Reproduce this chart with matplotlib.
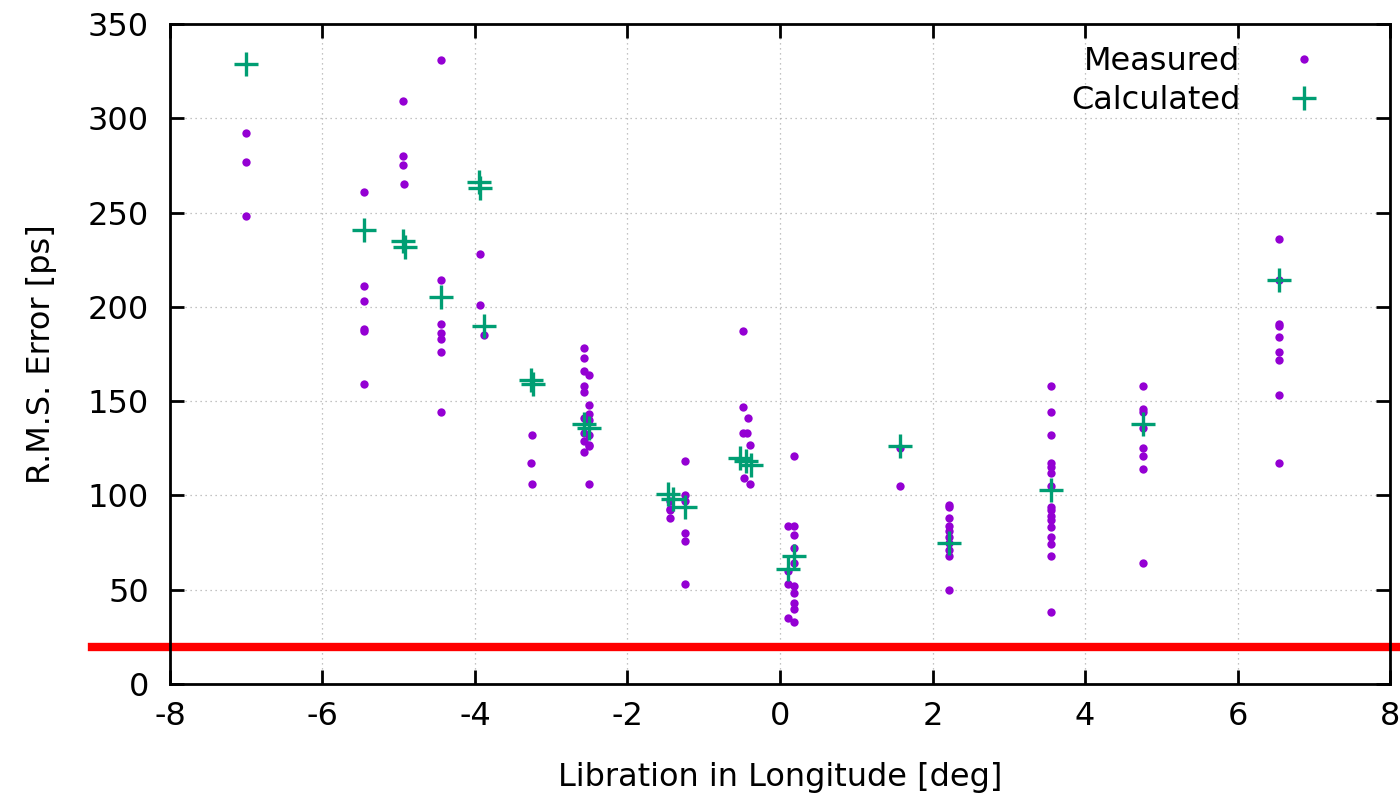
import numpy as np
from matplotlib import pyplot as plt
from matplotlib import transforms

# measured r.m.s. error per libration value
meas_x = [
    -7.0, -7.0, -7.0,
    -5.46, -5.46, -5.46, -5.46, -5.46, -5.46,
    -4.94, -4.94, -4.94, -4.93,
    -4.44, -4.44, -4.44, -4.44, -4.44, -4.44, -4.44,
    -3.94, -3.94, -3.88,
    -3.25, -3.27, -3.25,
    -2.57, -2.57, -2.57, -2.50, -2.57, -2.57, -2.50, -2.50, -2.57, -2.50,
    -2.57, -2.50, -2.57, -2.50, -2.50, -2.57, -2.50,
    -1.44, -1.44, -1.44, -1.44,
    -1.25, -1.25, -1.25, -1.25, -1.25, -1.25,
    -0.49, -0.48, -0.42, -0.49, -0.43, -0.40, -0.47, -0.40,
    0.18, 0.11, 0.18, 0.18, 0.18, 0.18, 0.11, 0.11, 0.18, 0.18, 0.18, 0.18,
    0.11, 0.18,
    1.57, 1.57,
    2.21, 2.21, 2.21, 2.21, 2.21, 2.21, 2.21, 2.21, 2.21, 2.21,
    3.55, 3.55, 3.55, 3.55, 3.55, 3.55, 3.55, 3.55, 3.55, 3.55, 3.55, 3.55,
    3.55, 3.55, 3.55, 3.55,
    4.76, 4.76, 4.76, 4.76, 4.76, 4.76, 4.76, 4.76,
    6.54, 6.54, 6.54, 6.54, 6.54, 6.54, 6.54, 6.54, 6.54,
]
meas_y = [
    292, 277, 248,
    261, 211, 203, 188, 187, 159,
    309, 280, 275, 265,
    331, 214, 191, 186, 183, 176, 144,
    228, 201, 185,
    132, 117, 106,
    178, 173, 166, 164, 158, 155, 148, 143, 141, 140,
    133, 132, 129, 127, 126, 123, 106,
    97, 93, 88, 92,
    118, 100, 97, 80, 76, 53,
    187, 147, 141, 133, 133, 127, 109, 106,
    121, 84, 84, 79, 72, 64, 60, 53, 52, 48, 43, 40,
    35, 33,
    125, 105,
    95, 94, 88, 84, 81, 78, 75, 71, 68, 50,
    158, 144, 132, 117, 115, 112, 105, 94, 92, 89, 87, 83,
    78, 74, 68, 38,
    158, 146, 144, 136, 125, 121, 114, 64,
    236, 214, 191, 190, 184, 176, 172, 153, 117,
]

# calculated r.m.s. error
calc_x = [-7.0, -5.46, -4.95, -4.92, -3.95, -3.93, -3.88, -4.44,
          -3.27, -3.24, -2.57, -2.51, -1.47, -1.40, -1.25,
          -0.52, -0.45, -0.38, 0.18, 0.11, 1.57, 2.21, 3.55, 4.76, 6.54]
calc_y = [329, 241, 235, 232, 266, 263, 190, 205,
          161, 159, 138, 136, 101, 98, 94,
          120, 118, 116, 68, 61, 126, 75, 103, 138, 214]

ref_level = 19.6

x_ticks = np.arange(-8, 9, 2)
y_ticks = np.arange(0, 351, 50)

plt.rcParams['font.family'] = ['DejaVu Sans']
plt.rcParams['axes.unicode_minus'] = False
fig = plt.figure(figsize=(14, 7.93), dpi=100)
ax = fig.add_axes([0.1214, 0.1375, 0.8715, 0.8322])

ax.plot(meas_x, meas_y, 'o', color='#9400D3', markersize=6, markeredgewidth=0,
        label='Measured', zorder=3)
ax.plot(calc_x, calc_y, '+', color='#009E73', markersize=17, markeredgewidth=2.4,
        label='Calculated', zorder=4)

# reference level, extends past the left spine
trans = transforms.blended_transform_factory(ax.transAxes, ax.transData)
ax.plot([-0.064, 1.02], [ref_level, ref_level], color='#FF0000', linewidth=6,
        transform=trans, clip_on=False, zorder=2)

ax.set_xlim(-8, 8)
ax.set_ylim(0, 350)
ax.set_xticks(x_ticks)
ax.set_yticks(y_ticks)
ax.tick_params(direction='in', length=10, width=2, labelsize=23,
               top=True, right=True, pad=12)
ax.tick_params(axis='y', pad=15)
ax.grid(True, linestyle=(0, (1, 3)), color='#b0b0b0', linewidth=0.9)
for s in ax.spines.values():
    s.set_linewidth(2)

ax.set_xlabel('Libration in Longitude [deg]', fontsize=23, labelpad=22)
ax.set_ylabel('R.M.S. Error [ps]', fontsize=23, labelpad=22)

ax.legend(loc='upper right', frameon=False, markerfirst=False, fontsize=23,
          handletextpad=1.0, borderaxespad=0.3, labelspacing=0.25,
          bbox_to_anchor=(0.974, 1.0))

fig.savefig('out.png', dpi=100)
